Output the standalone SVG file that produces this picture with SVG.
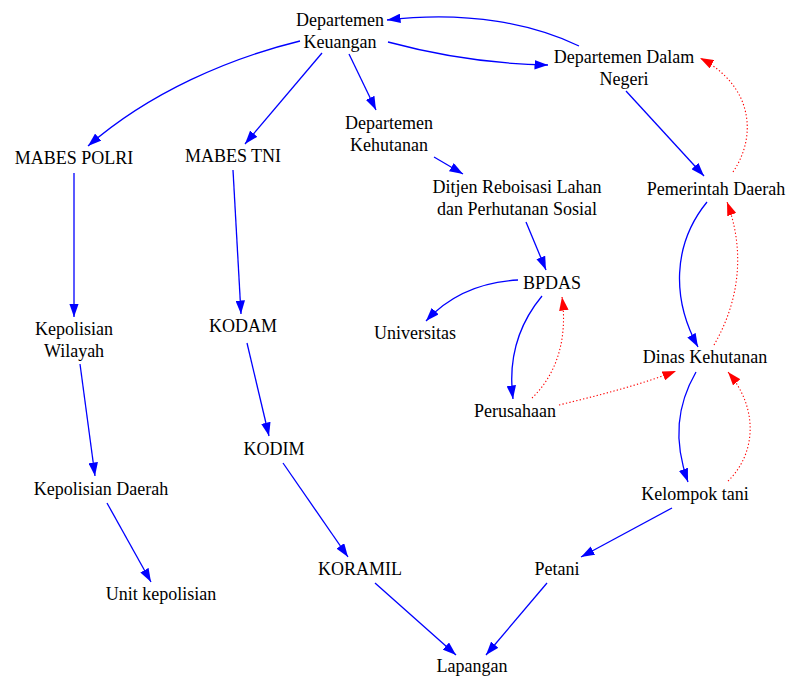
<svg xmlns="http://www.w3.org/2000/svg" width="786" height="678" viewBox="0 0 786 678">
<style>
text{font-family:"Liberation Serif","Times New Roman",serif;font-size:18px;fill:#000;text-anchor:middle}
.b{fill:none;stroke:#0000ff;stroke-width:1.3}
.r{fill:none;stroke:#ff0000;stroke-width:1.1;stroke-dasharray:1.3,2.2}
</style>
<defs>
<marker id="ab" viewBox="0 0 13.5 9.5" refX="13.5" refY="4.75" markerWidth="13.5" markerHeight="9.5" markerUnits="userSpaceOnUse" orient="auto"><path d="M0,0L13.5,4.75L0,9.5z" fill="#0000ff"/></marker>
<marker id="ar" viewBox="0 0 13.5 9.5" refX="13.5" refY="4.75" markerWidth="13.5" markerHeight="9.5" markerUnits="userSpaceOnUse" orient="auto"><path d="M0,0L13.5,4.75L0,9.5z" fill="#ff0000"/></marker>
</defs>
<rect width="786" height="678" fill="#fff"/>
<g id="edges">
<path class="b" marker-end="url(#ab)" d="M300,41 C230,58 150,92 88,146"/>
<path class="b" marker-end="url(#ab)" d="M322,53 L245,144"/>
<path class="b" marker-end="url(#ab)" d="M349,54 L376,110"/>
<path class="b" marker-end="url(#ab)" d="M388,42 C440,56 490,64 548,65"/>
<path class="b" marker-end="url(#ab)" d="M579,46 C535,25 470,10 387,20"/>
<path class="b" marker-end="url(#ab)" d="M626,91 L704,176"/>
<path class="r" marker-end="url(#ar)" d="M733,172 C758,135 752,85 700,58"/>
<path class="b" marker-end="url(#ab)" d="M707,202 C672,245 672,300 698,347"/>
<path class="r" marker-end="url(#ar)" d="M714,345 C740,300 745,250 727,202"/>
<path class="b" marker-end="url(#ab)" d="M434,157 L463,174"/>
<path class="b" marker-end="url(#ab)" d="M526,222 L546,270"/>
<path class="b" marker-end="url(#ab)" d="M518,280 C480,282 450,295 426,321"/>
<path class="b" marker-end="url(#ab)" d="M542,296 C518,325 508,360 513,399"/>
<path class="r" marker-end="url(#ar)" d="M532,398 C556,375 568,340 562,297"/>
<path class="r" marker-end="url(#ar)" d="M559,405 C600,395 640,385 676,371"/>
<path class="b" marker-end="url(#ab)" d="M696,372 C677,405 673,440 688,482"/>
<path class="r" marker-end="url(#ar)" d="M728,481 C755,455 760,410 728,372"/>
<path class="b" marker-end="url(#ab)" d="M672,508 L581,557"/>
<path class="b" marker-end="url(#ab)" d="M74,173 L74,317"/>
<path class="b" marker-end="url(#ab)" d="M233,170 L241,314"/>
<path class="b" marker-end="url(#ab)" d="M80,364 L95,476"/>
<path class="b" marker-end="url(#ab)" d="M107,503 L151,582"/>
<path class="b" marker-end="url(#ab)" d="M247,343 L269,436"/>
<path class="b" marker-end="url(#ab)" d="M283,463 L348,557"/>
<path class="b" marker-end="url(#ab)" d="M375,583 L456,655"/>
<path class="b" marker-end="url(#ab)" d="M547,583 L486,655"/>
</g>
<g id="keuangan"><text x="340" y="26">Departemen</text><text x="340" y="48">Keuangan</text></g>
<g id="dalamnegeri"><text x="624" y="63">Departemen Dalam</text><text x="624" y="85">Negeri</text></g>
<g id="mabespolri"><text x="74" y="164">MABES POLRI</text></g>
<g id="mabestni"><text x="233" y="162">MABES TNI</text></g>
<g id="kehutanan"><text x="389" y="129">Departemen</text><text x="389" y="151">Kehutanan</text></g>
<g id="ditjen"><text x="517" y="193">Ditjen Reboisasi Lahan</text><text x="517" y="215">dan Perhutanan Sosial</text></g>
<g id="bpdas"><text x="552" y="289">BPDAS</text></g>
<g id="pemda"><text x="716" y="195">Pemerintah Daerah</text></g>
<g id="kepwilayah"><text x="74" y="335">Kepolisian</text><text x="74" y="357">Wilayah</text></g>
<g id="kodam"><text x="243" y="332">KODAM</text></g>
<g id="universitas"><text x="415" y="339">Universitas</text></g>
<g id="dinas"><text x="705" y="363">Dinas Kehutanan</text></g>
<g id="perusahaan"><text x="515" y="417">Perusahaan</text></g>
<g id="kodim"><text x="274" y="455">KODIM</text></g>
<g id="kepdaerah"><text x="101" y="495">Kepolisian Daerah</text></g>
<g id="kelompoktani"><text x="695" y="500">Kelompok tani</text></g>
<g id="unitkep"><text x="161" y="600">Unit kepolisian</text></g>
<g id="koramil"><text x="360" y="575">KORAMIL</text></g>
<g id="petani"><text x="557" y="575">Petani</text></g>
<g id="lapangan"><text x="472" y="672">Lapangan</text></g>
</svg>
